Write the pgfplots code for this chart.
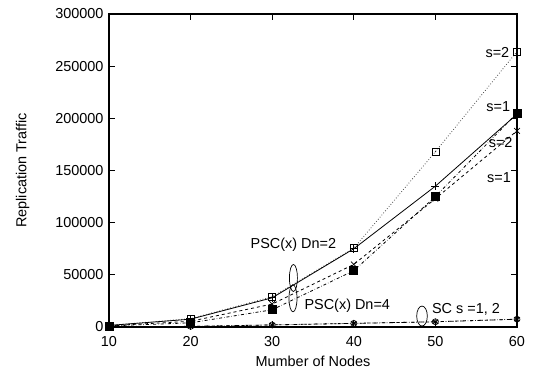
\documentclass[border=0pt]{standalone}
\usepackage{pgfplots}
\pgfplotsset{compat=1.18}
\usepackage{fontspec}
\setmainfont{Liberation Sans}
\pgfdeclareplotmark{sqdot}{%
  \pgfpathrectangle{\pgfpoint{-\pgfplotmarksize}{-\pgfplotmarksize}}{\pgfpoint{2\pgfplotmarksize}{2\pgfplotmarksize}}%
  \pgfusepathqstroke
  \pgfpathcircle{\pgfpointorigin}{0.6pt}\pgfusepathqfill}
\begin{document}
\begin{tikzpicture}
\path[use as bounding box] (-109bp,-48bp) rectangle (430bp,327bp);
\begin{axis}[
  at={(0,0)}, anchor=south west,
  scale only axis, width=408bp, height=313bp,
  xmin=10, xmax=60, ymin=0, ymax=300000,
  xtick={10,20,30,40,50,60},
  ytick={0,50000,100000,150000,200000,250000,300000},
  scaled y ticks=false,
  /pgf/number format/fixed,
  /pgf/number format/1000 sep={},
  /pgf/number format/assume math mode=true,
  tick align=inside,
  major tick length=6bp,
  axis line style={line width=1.2bp},
  tick style={line width=0.8bp, black},
  every tick label/.append style={font=\fontsize{14.5}{17}\selectfont},
  xlabel={Mumber of Nodes},
  ylabel={Replication Traffic},
  label style={font=\fontsize{14.5}{17}\selectfont},
  xlabel style={yshift=-2bp},
  ylabel style={yshift=19bp},
  xticklabel style={yshift=-6bp},
  yticklabel style={xshift=-2bp},
  clip=false,
]
% PSC(x) Dn=2, s=2
\addplot[black!70, dotted, line width=0.8bp, mark=sqdot, mark size=3.5bp, mark options={solid, black, line width=0.7bp}]
  coordinates {(10,1500) (20,8000) (30,29000) (40,75500) (50,168000) (60,264000)};
% PSC(x) Dn=2, s=1
\addplot[black, solid, line width=0.8bp, mark=+, mark size=4bp, mark options={solid, line width=0.7bp}]
  coordinates {(10,1500) (20,7500) (30,28000) (40,75000) (50,135000) (60,204000)};
% PSC(x) Dn=4, s=2
\addplot[black, dashed, line width=0.8bp, mark=x, mark size=4bp, mark options={solid, line width=0.7bp}]
  coordinates {(10,1200) (20,5500) (30,22000) (40,60000) (50,123000) (60,188000)};
% PSC(x) Dn=4, s=1
\addplot[black, dash dot, line width=0.8bp, mark=square*, mark size=4bp, mark options={solid}]
  coordinates {(10,1000) (20,4000) (30,16500) (40,54000) (50,125000) (60,205000)};
% SC s=1
\addplot[black, dash dot, line width=0.8bp, mark=asterisk, mark size=3.5bp, mark options={solid, line width=0.7bp}]
  coordinates {(10,300) (20,600) (30,2000) (40,3500) (50,5000) (60,7500)};
% SC s=2
\addplot[black, dash dot dot, line width=0.8bp, mark=otimes, mark size=3bp, mark options={solid, line width=0.6bp}]
  coordinates {(10,300) (20,600) (30,2000) (40,3500) (50,5000) (60,7500)};

% annotations
\draw[line width=0.7bp] (axis cs:32.6,47000) ellipse [x radius=4bp, y radius=13.5bp];
\draw[line width=0.7bp] (axis cs:32.55,27500) ellipse [x radius=4bp, y radius=13.5bp];
\draw[line width=0.7bp] (axis cs:48.36,10500) ellipse [x radius=5.3bp, y radius=10bp];
\node[font=\fontsize{14.5}{17}\selectfont, inner sep=0pt] at (axis cs:32.6,78600) {PSC(x) Dn=2};
\node[font=\fontsize{14.5}{17}\selectfont, inner sep=0pt] at (axis cs:39.2,20100) {PSC(x) Dn=4};
\node[font=\fontsize{14.5}{17}\selectfont, inner sep=0pt] at (axis cs:53.75,16500) {SC s =1, 2};
\node[font=\fontsize{14.5}{17}\selectfont, inner sep=0pt] at (axis cs:57.6,262600) {s=2};
\node[font=\fontsize{14.5}{17}\selectfont, inner sep=0pt] at (axis cs:57.7,210900) {s=1};
\node[font=\fontsize{14.5}{17}\selectfont, inner sep=0pt] at (axis cs:58.0,176400) {s=2};
\node[font=\fontsize{14.5}{17}\selectfont, inner sep=0pt] at (axis cs:57.8,142800) {s=1};
\end{axis}
\end{tikzpicture}
\end{document}
